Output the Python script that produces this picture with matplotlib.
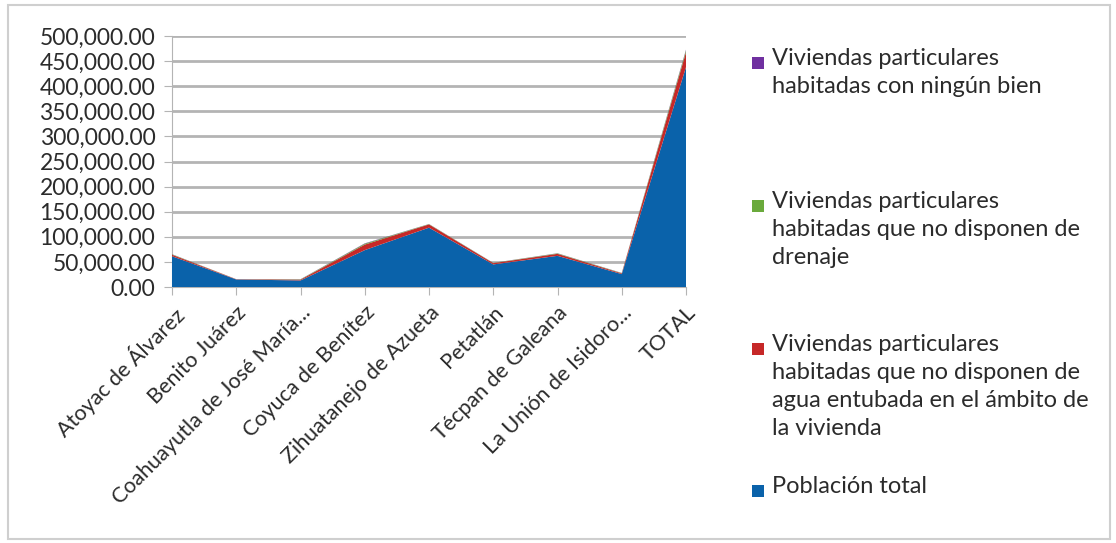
import matplotlib.pyplot as plt
import matplotlib.patches as patches
from matplotlib.ticker import FuncFormatter

plt.rcParams['font.family'] = ['Lato', 'DejaVu Sans']

municipios = ["Atoyac de Álvarez", "Benito Juárez", "Coahuayutla de José María...",
              "Coyuca de Benítez", "Zihuatanejo de Azueta", "Petatlán",
              "Técpan de Galeana", "La Unión de Isidoro...", "TOTAL"]

poblacion = [61316, 15019, 13025, 73460, 118211, 44979, 62071, 25712, 438000]
sin_agua = [3000, 500, 1500, 11000, 6500, 2500, 4000, 1500, 29500]
sin_drenaje = [800, 100, 700, 1800, 600, 500, 900, 600, 3700]
ningun_bien = [300, 50, 300, 700, 200, 200, 300, 250, 1500]

nombres = ["Población total",
           "Viviendas particulares\nhabitadas que no disponen de\nagua entubada en el ámbito de\nla vivienda",
           "Viviendas particulares\nhabitadas que no disponen de\ndrenaje",
           "Viviendas particulares\nhabitadas con ningún bien"]
colores = ["#0a62aa", "#c62828", "#6aaa3c", "#7030a0"]
texto = "#2b2b2b"

W, H = 1116, 543
fig = plt.figure(figsize=(W / 100, H / 100), dpi=100)

# marco exterior
fig.patches.append(patches.Rectangle((8 / W, 4 / H), 1102 / W, 534 / H, transform=fig.transFigure,
                                     fill=False, edgecolor="#cfcfcf", linewidth=1.5))

ax = fig.add_axes([172 / W, 1 - 287 / H, (686 - 172) / W, (287 - 36) / H])
x = list(range(len(municipios)))
ax.stackplot(x, poblacion, sin_agua, sin_drenaje, ningun_bien, colors=colores, zorder=3)

ax.set_xlim(0, len(municipios) - 1)
ax.set_ylim(0, 500000)
ax.set_yticks(range(0, 500001, 50000))
ax.yaxis.set_major_formatter(FuncFormatter(lambda v, p: "{:,.2f}".format(v)))
ax.grid(axis="y", color="#b4b4b4", linewidth=2, zorder=0)
ax.set_axisbelow(True)
for s in ["top", "right"]:
    ax.spines[s].set_visible(False)
ax.spines["left"].set_color("#b4b4b4")
ax.spines["bottom"].set_color("#b4b4b4")
ax.tick_params(axis="y", length=6, color="#b4b4b4", labelsize=16.5, labelcolor=texto, pad=6)
ax.tick_params(axis="x", length=6, color="#b4b4b4", labelsize=15.5, labelcolor=texto, pad=5)
ax.set_xticks(x)
ax.set_xticklabels(municipios, rotation=45, ha="right", rotation_mode="anchor")

# leyenda (orden inverso al apilado)
leg_y = [63, 206, 349, 491]
for i, yy in enumerate(leg_y):
    k = 3 - i
    fig.patches.append(patches.Rectangle((752 / W, 1 - (yy + 6) / H), 12 / W, 12 / H,
                                         transform=fig.transFigure, facecolor=colores[k],
                                         edgecolor="none"))
    fig.text(772 / W, 1 - (yy - 15) / H, nombres[k], fontsize=17, color=texto,
             va="top", ha="left", linespacing=1.42)

fig.savefig("out.png", dpi=100)
